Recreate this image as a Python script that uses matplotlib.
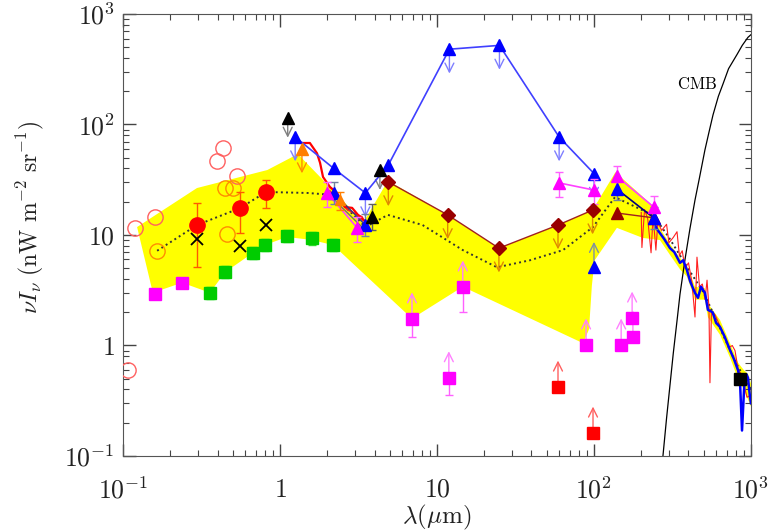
import numpy as np
import matplotlib
matplotlib.use('Agg')
import matplotlib.pyplot as plt

plt.rcParams['mathtext.fontset'] = 'cm'
plt.rcParams['font.family'] = ['DejaVu Serif']

# ---------- datos ----------
# banda amarilla (borde superior e inferior)
banda_sup_x = [0.123, 0.296, 0.83, 1.30, 2.2, 3.4, 4.87, 11.7, 24.8, 59, 98, 137, 234,
               263, 305, 353, 391, 440, 509, 532, 635, 735, 826, 900, 960, 1000]
banda_sup_y = [11.8, 26.6, 38.7, 54, 25, 13, 31, 15.2, 7.6, 12.3, 16.8, 37, 18.7,
               11.5, 8.3, 6.2, 5.3, 3.4, 3.3, 2.4, 1.7, 1.05, 0.7, 0.6, 0.55, 0.45]
banda_inf_x = [0.155, 0.238, 0.358, 0.447, 0.673, 0.80, 1.11, 1.6, 2.18, 6.93, 14.6,
               85, 93, 97, 101, 140, 205, 263, 305, 353, 391, 440, 509, 532, 635,
               735, 826, 900, 1000]
banda_inf_y = [3.0, 3.7, 3.0, 4.6, 6.9, 8.1, 9.6, 9.0, 8.1, 1.75, 3.4,
               1.05, 1.4, 3.5, 5.9, 11.6, 9.4, 9.0, 6.6, 4.9, 4.2, 2.6, 2.6, 1.8, 1.25,
               0.78, 0.5, 0.4, 0.28]

# linea punteada
punt_x = [0.165, 0.296, 0.556, 0.815, 1.5, 2.2, 3.5, 4.87, 8.1, 14.6, 24.1, 39, 63.5,
          98.6, 136, 240, 300, 400, 500, 640, 800, 1000]
punt_y = [7.2, 12.3, 17.5, 24.5, 24, 23, 11.8, 15.2, 12.3, 7.3, 5.1, 5.9, 7.3,
          11.8, 22, 15, 9.5, 4.9, 3.0, 1.4, 0.7, 0.4]

# limites superiores azules (linea)
azul_lim_x = [1.25, 2.2, 3.5, 4.9, 12, 25, 60, 100]
azul_lim_y = [77, 40, 24, 43, 480, 520, 77, 36]
azul_flecha_x = [1.25, 3.5, 12, 25, 60, 100]
azul_flecha_y = [77, 24, 480, 520, 77, 36]

# triangulos azules con error
azul_x = [2.2, 3.5, 140, 240]
azul_y = [24, 12.3, 26, 14.3]
azul_inf_x = [100]
azul_inf_y = [5.1]

# espectro azul
esp_azul_x = [234, 250, 263, 280, 305, 325, 353, 370, 391, 410, 440, 460, 480, 509,
              532, 570, 600, 635, 680, 735, 780, 826, 850, 877, 905, 935, 957, 986, 1000]
esp_azul_y = [14.3, 11.5, 10.4, 9.2, 7.6, 7.0, 5.6, 5.9, 4.8, 3.8, 2.99, 2.7, 3.4, 3.0,
              2.1, 2.0, 1.6, 1.47, 1.2, 0.91, 0.75, 0.60, 0.5, 0.17, 0.42, 0.55, 0.51, 0.34, 0.3]

# espectro rojo
esp_rojo_x = [200, 202, 210, 220, 231, 238, 248, 255, 270, 290, 300, 320, 338, 350,
              365, 380, 400, 420, 440, 453, 470, 490, 510, 525, 540, 548, 560, 590,
              635, 680, 720, 760, 791, 830, 870, 900, 943, 980, 1000]
esp_rojo_y = [16, 7.7, 17, 14, 6.9, 15, 7.3, 13, 11, 12.5, 8.5, 9.5, 10.7, 6.5,
              7.2, 5.0, 5.6, 3.8, 1.81, 6.3, 3.4, 3.6, 2.6, 3.9, 2.2, 0.46, 2.0, 1.9,
              1.5, 1.2, 0.95, 1.0, 0.9, 0.6, 0.55, 0.45, 0.34, 0.35, 0.3]

# linea roja gruesa (infrarrojo cercano)
rojo1_x = [1.38, 1.55, 1.72, 1.80, 1.88, 2.08, 2.31, 2.59, 2.88, 3.14, 3.38, 3.64]
rojo1_y = [68, 68, 55, 45, 33.5, 27.2, 24, 17.9, 17.6, 15.2, 13.7, 12.9]
rojo2_x = [2.08, 2.34, 2.71, 3.33, 3.6]
rojo2_y = [25, 20.7, 16.8, 14.6, 12.0]
gris_x = [2.2, 2.8, 3.5]
gris_y = [21, 15, 11]

# triangulos magenta
mag_tri_x = [2.0, 3.1]
mag_tri_y = [24, 11.6]
mag_tri2_x = [60, 100]
mag_tri2_y = [29.6, 25.5]
mag_tri3_x = [140, 240]
mag_tri3_y = [34, 17.9]

# diamantes granate (limites superiores)
gran_x = [4.9, 11.7, 24.8, 59, 98]
gran_y = [30.2, 15.2, 7.6, 12.3, 16.8]
gran_tri_x = [140, 240]
gran_tri_y = [15.8, 14.3]

# triangulos negros
neg_lim_x = [1.12, 4.33]
neg_lim_y = [115, 38.7]
neg_x = [3.86]
neg_y = [14.6]
neg_cuad_x = [850]
neg_cuad_y = [0.5]

# naranja
nar_lim_x = [1.38]
nar_lim_y = [60]
nar_x = [2.41]
nar_y = [20.7]

# circulos rojos llenos
circ_x = [0.296, 0.556, 0.815]
circ_y = [12.3, 17.5, 24.5]
circ_err_inf = [7.2, 7.1, 7.0]
circ_err_sup = [7.2, 7.0, 7.0]

# cruces
cruz_x = [0.296, 0.556, 0.815]
cruz_y = [9.2, 7.9, 12.3]

# circulos abiertos
abierto_rojo_x = [0.108, 0.119, 0.16, 0.397, 0.434, 0.532]
abierto_rojo_y = [0.60, 11.6, 14.6, 46.7, 61, 34]
abierto_nar_x = [0.165, 0.447, 0.502, 0.46]
abierto_nar_y = [7.2, 26.6, 26.6, 10.2]

# cuadrados verdes
verde_x = [0.358, 0.447, 0.673, 0.80, 1.11, 1.6, 2.18]
verde_y = [2.99, 4.6, 6.9, 8.1, 9.8, 9.3, 8.1]

# cuadrados magenta
mag_x = [0.16, 0.238]
mag_y = [2.95, 3.7]
mag_err_x = [6.93, 14.6, 11.9]
mag_err_y = [1.74, 3.38, 0.51]
mag_err_inf = [0.55, 1.38, 0.15]
mag_flecha_x = [89, 149, 175, 177]
mag_flecha_y = [1.01, 1.01, 1.77, 1.19]

# cuadrados rojos (limites inferiores)
rojo_cuad_x = [59, 98.6]
rojo_cuad_y = [0.42, 0.161]

# CMB
cmb_x = [260, 275, 290, 310, 320, 340, 353, 380, 409, 440, 470, 509, 540, 573, 620,
         663, 720, 815, 880, 957, 1000]
cmb_y = [0.05, 0.1, 0.22, 0.55, 0.85, 1.8, 2.9, 6.0, 11.5, 20.7, 33, 58.8, 85, 122, 180,
         232, 320, 430, 520, 615, 650]


def flechas(ax, xs, ys, color, arriba=False, largo=0.22, hueco=0.0):
    for x, y in zip(xs, ys):
        s = 1 if arriba else -1
        y0 = y * 10 ** (s * hueco)
        y1 = y0 * 10 ** (s * largo)
        ax.annotate('', xy=(x, y1), xytext=(x, y0),
                    arrowprops=dict(arrowstyle='->', color=color, lw=1.0,
                                    mutation_scale=16, shrinkA=0, shrinkB=0),
                    zorder=3)


fig = plt.figure(figsize=(7.73, 5.32), dpi=100)
ax = fig.add_axes([0.1591, 0.1429, 0.8124, 0.8308])
ax.set_xscale('log')
ax.set_yscale('log')
ax.set_xlim(0.1, 1000)
ax.set_ylim(0.1, 1000)

# banda amarilla
poly_x = banda_sup_x + banda_inf_x[::-1]
poly_y = banda_sup_y + banda_inf_y[::-1]
ax.fill(poly_x, poly_y, color='#ffff00', lw=0, zorder=1)

# punteada
ax.plot(punt_x, punt_y, ':', color='#333333', lw=1.4, zorder=2)

# CMB
ax.plot(cmb_x, cmb_y, '-', color='black', lw=0.9, zorder=2)
ax.text(453, 228, r'$\mathrm{CMB}$', fontsize=12, ha='center', va='center')

# espectros
ax.plot(esp_rojo_x, esp_rojo_y, '-', color='#ff2020', lw=0.8, zorder=3)
ax.plot(esp_azul_x, esp_azul_y, '-', color='#0000ff', lw=1.8, zorder=3)

# lineas del infrarrojo cercano
ax.plot(gris_x, gris_y, '-', color='#707070', lw=1.0, zorder=3)
ax.plot(rojo2_x, rojo2_y, '-', color='#ff2020', lw=1.2, zorder=3)
ax.plot(rojo1_x, rojo1_y, '-', color='#ff0000', lw=1.6, zorder=3)

# flechas de limites
flechas(ax, azul_flecha_x, azul_flecha_y, '#7f7fff')
flechas(ax, gran_x, gran_y, '#e08a00')
flechas(ax, neg_lim_x, neg_lim_y, '#808080', largo=0.18)
flechas(ax, nar_lim_x, nar_lim_y, '#ff8c00')
flechas(ax, azul_inf_x, azul_inf_y, '#8090a0', arriba=True, largo=0.2, hueco=0.03)
flechas(ax, mag_err_x, mag_err_y, '#ff80ff', arriba=True, largo=0.2, hueco=0.04)
flechas(ax, mag_flecha_x, mag_flecha_y, '#ff80ff', arriba=True, largo=0.2, hueco=0.04)
flechas(ax, rojo_cuad_x, rojo_cuad_y, '#ff6060', arriba=True, largo=0.2, hueco=0.04)

# linea azul de limites superiores
ax.plot(azul_lim_x, azul_lim_y, '-', color='#4040ff', lw=1.2, zorder=3)
ax.plot(azul_lim_x, azul_lim_y, '^', color='#0000ff', ms=8, zorder=5)

# triangulos azules con error
ax.plot(azul_x[:2], azul_y[:2], '-', color='#303090', lw=1.0, zorder=3)
ax.plot(azul_x[2:], azul_y[2:], '-', color='#000080', lw=1.2, zorder=3)
ax.errorbar(azul_x, azul_y, yerr=[np.array(azul_y) * 0.2, np.array(azul_y) * 0.25],
            fmt='^', color='#0000ff', ecolor='#7080a0', ms=8, capsize=3, lw=1, zorder=5)
ax.plot(azul_inf_x, azul_inf_y, '^', color='#0000ff', ms=8, zorder=5)

# magenta triangulos
for tx, ty in [(mag_tri_x, mag_tri_y), (mag_tri2_x, mag_tri2_y), (mag_tri3_x, mag_tri3_y)]:
    ax.plot(tx, ty, '-', color='#ff40ff', lw=1.2, zorder=3)
    ax.errorbar(tx, ty, yerr=[np.array(ty) * 0.25, np.array(ty) * 0.25],
                fmt='^', color='#ff00ff', ecolor='#ff60ff', ms=8, capsize=3, lw=1, zorder=5)

# diamantes granate
ax.plot(gran_x, gran_y, '-', color='#a02020', lw=1.0, zorder=3)
ax.plot(gran_x, gran_y, 'D', color='#990000', ms=7, zorder=5)
ax.plot(gran_tri_x, gran_tri_y, '-', color='#a02020', lw=1.0, zorder=3)
ax.plot(gran_tri_x, gran_tri_y, '^', color='#990000', ms=8, zorder=5)

# negros
ax.plot(neg_lim_x, neg_lim_y, '^', color='black', ms=8, zorder=5)
ax.errorbar(neg_x, neg_y, yerr=[[3.5], [4.5]], fmt='^', color='black', ecolor='#606060',
            ms=8, capsize=3, lw=1, zorder=5)
ax.plot(neg_cuad_x, neg_cuad_y, 's', color='black', ms=8, zorder=5)

# naranja
ax.plot(nar_lim_x, nar_lim_y, '^', color='#ff7f00', ms=8, zorder=5)
ax.errorbar(nar_x, nar_y, yerr=[[4], [4]], fmt='^', color='#ff7f00', ecolor='#ff7f00',
            ms=7, capsize=3, lw=1, zorder=5)

# circulos abiertos
ax.plot(abierto_rojo_x, abierto_rojo_y, 'o', mfc='none', mec='#ff6060', ms=11, mew=1.0, zorder=4)
ax.plot(abierto_nar_x, abierto_nar_y, 'o', mfc='none', mec='#ff8c00', ms=11, mew=1.0, zorder=4)

# circulos rojos llenos
ax.errorbar(circ_x, circ_y, yerr=[circ_err_inf, circ_err_sup], fmt='o', color='#ff0000',
            ecolor='#ff5a00', ms=11, capsize=3, lw=1, zorder=5)

# cruces
ax.plot(cruz_x, cruz_y, 'x', color='black', ms=9, mew=1.3, zorder=5)

# cuadrados verdes
ax.errorbar(verde_x, verde_y, yerr=[np.array(verde_y) * 0.12, np.array(verde_y) * 0.14],
            fmt='s', color='#00cc00', ecolor='#33dd33', ms=8, capsize=3, lw=1, zorder=5)

# cuadrados magenta
ax.plot(mag_x, mag_y, 's', color='#ff00ff', ms=9, zorder=5)
ax.errorbar(mag_err_x, mag_err_y, yerr=[mag_err_inf, [0, 0, 0]], fmt='s', color='#ff00ff',
            ecolor='#ff60ff', ms=9, capsize=3, lw=1, zorder=5)
ax.plot(mag_flecha_x, mag_flecha_y, 's', color='#ff00ff', ms=9, zorder=5)

# cuadrados rojos
ax.plot(rojo_cuad_x, rojo_cuad_y, 's', color='#ff0000', ms=8, zorder=5)

# ejes
ax.tick_params(which='both', direction='in', top=True, right=True, colors='#444444')
ax.tick_params(which='major', length=9, width=1, labelsize=18.5, labelcolor='#222222')
ax.tick_params(axis='y', which='major', pad=6)
ax.tick_params(axis='x', which='major', pad=15)
ax.tick_params(which='minor', length=4.5, width=0.8)
etiquetas = [r'$10^{-1}$', r'$1$', r'$10$', r'$10^{2}$', r'$10^{3}$']
ax.set_xticks([0.1, 1, 10, 100, 1000])
ax.set_xticklabels(etiquetas)
ax.set_yticks([0.1, 1, 10, 100, 1000])
ax.set_yticklabels(etiquetas)
for s in ax.spines.values():
    s.set_color('#555555')
ax.set_xlabel(r'$\lambda(\mu\mathrm{m})$', fontsize=18, labelpad=0, color='#222222')
fig.text(30 / 773, 1 - 217 / 532, r'$\nu I_\nu\ (\mathrm{nW\ m^{-2}\ sr^{-1}})$',
         fontsize=17, rotation=90, ha='center', va='center', color='#222222')

fig.savefig('out.png', dpi=100)
